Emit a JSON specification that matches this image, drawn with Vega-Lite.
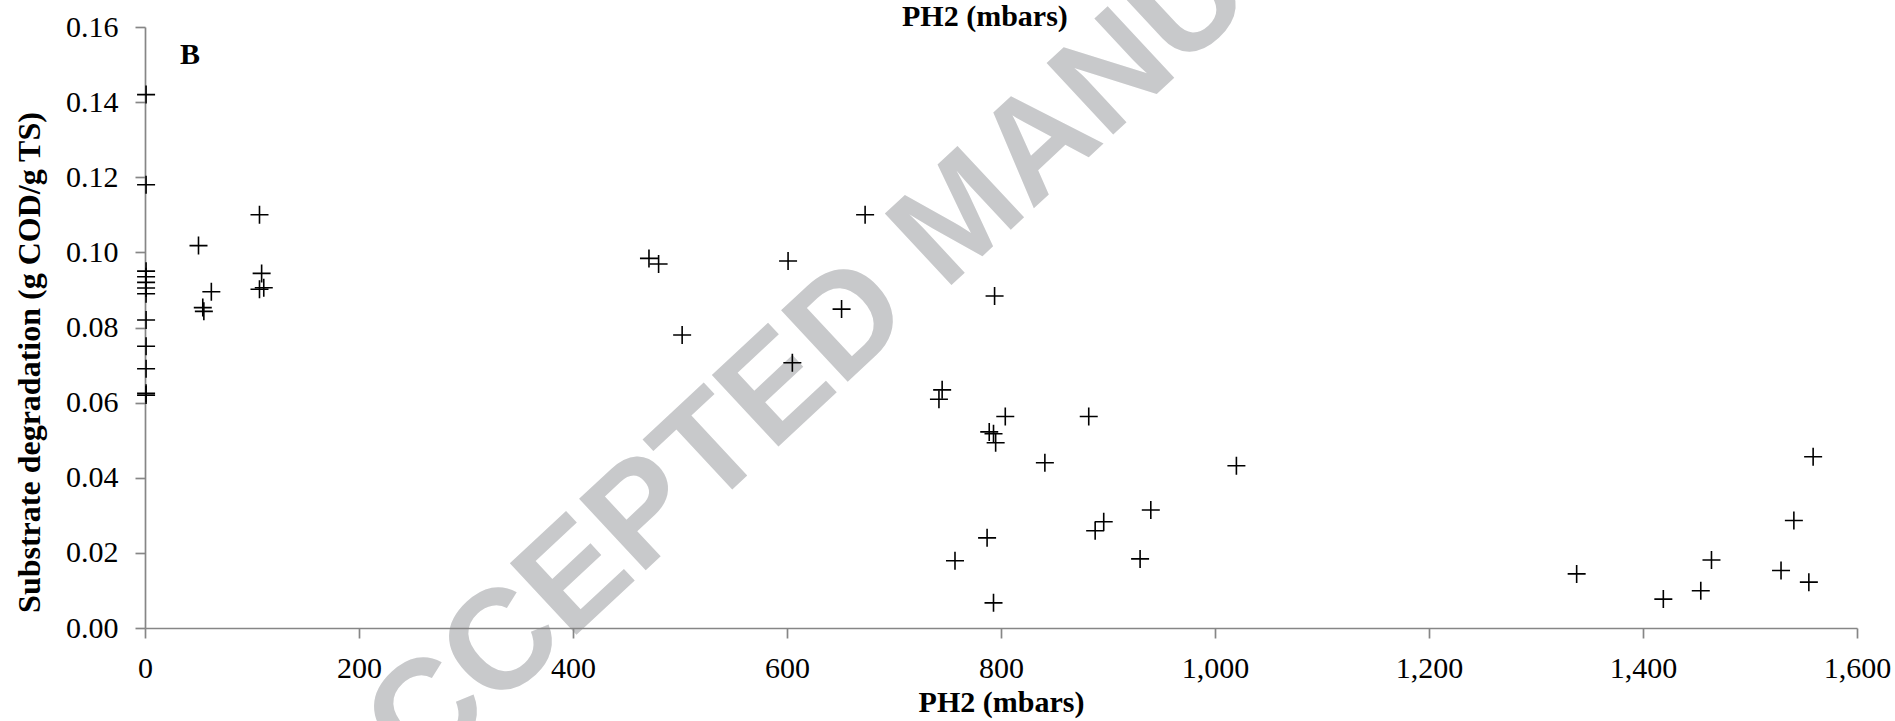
{
  "$schema": "https://vega.github.io/schema/vega-lite/v6.json",
  "autosize": {"type": "none"},
  "padding": {"left": 145, "top": 27, "right": 38, "bottom": 93},
  "width": 1712,
  "height": 601,
  "background": "white",
  "config": {
    "view": {"stroke": null},
    "font": "Liberation Serif, Times New Roman, serif",
    "axis": {
      "grid": false,
      "domainColor": "#868686",
      "domainWidth": 1.7,
      "tickColor": "#868686",
      "tickWidth": 1.7,
      "tickSize": 10,
      "labelFont": "Liberation Serif, Times New Roman, serif",
      "labelFontSize": 30,
      "labelColor": "black",
      "labelOverlap": false,
      "labelFlush": false,
      "titleFont": "Liberation Serif, Times New Roman, serif",
      "titleFontWeight": "bold",
      "titleColor": "black"
    }
  },
  "layer": [
    {
      "data": {"values": [{}]},
      "mark": {
        "type": "text",
        "font": "Liberation Sans, Arial, sans-serif",
        "fontWeight": "bold",
        "fontSize": 142,
        "angle": 317,
        "color": "#c8c9cb",
        "align": "center",
        "baseline": "middle"
      },
      "encoding": {
        "x": {"datum": 763, "type": "quantitative"},
        "y": {"datum": 0.1094, "type": "quantitative"},
        "text": {"value": "ACCEPTED MANUSCRIPT"}
      }
    },
    {
      "data": {
        "values": [
          {"p": 1, "s": 0.142}, {"p": 1, "s": 0.118}, {"p": 1, "s": 0.095},
          {"p": 1, "s": 0.0935}, {"p": 1, "s": 0.092}, {"p": 1, "s": 0.0905},
          {"p": 1, "s": 0.089}, {"p": 1, "s": 0.082}, {"p": 1, "s": 0.075},
          {"p": 1, "s": 0.069}, {"p": 1, "s": 0.062}, {"p": 1, "s": 0.0625},
          {"p": 50, "s": 0.1018}, {"p": 54, "s": 0.0853}, {"p": 55, "s": 0.0843},
          {"p": 62, "s": 0.0895}, {"p": 107, "s": 0.11}, {"p": 109, "s": 0.0944},
          {"p": 107, "s": 0.0902}, {"p": 111, "s": 0.0906},
          {"p": 471, "s": 0.0984}, {"p": 480, "s": 0.0969}, {"p": 502, "s": 0.078},
          {"p": 601, "s": 0.0977}, {"p": 605, "s": 0.0706}, {"p": 651, "s": 0.0849},
          {"p": 673, "s": 0.11}, {"p": 742, "s": 0.0609}, {"p": 745, "s": 0.0634},
          {"p": 757, "s": 0.0179}, {"p": 787, "s": 0.024}, {"p": 789, "s": 0.0522},
          {"p": 793, "s": 0.0517}, {"p": 793, "s": 0.0067}, {"p": 794, "s": 0.0884},
          {"p": 795, "s": 0.0493}, {"p": 804, "s": 0.0563}, {"p": 841, "s": 0.044},
          {"p": 882, "s": 0.0563}, {"p": 888, "s": 0.0259}, {"p": 896, "s": 0.0283},
          {"p": 930, "s": 0.0184}, {"p": 940, "s": 0.0314}, {"p": 1020, "s": 0.0432},
          {"p": 1338, "s": 0.0144}, {"p": 1419, "s": 0.0077}, {"p": 1454, "s": 0.0099},
          {"p": 1464, "s": 0.0181}, {"p": 1529, "s": 0.0153}, {"p": 1541, "s": 0.0286},
          {"p": 1555, "s": 0.0122}, {"p": 1559, "s": 0.0456}
        ]
      },
      "mark": {
        "type": "point",
        "shape": "M-1,0H1M0,-1V1",
        "filled": false,
        "color": "black",
        "strokeWidth": 1.6,
        "size": 324,
        "opacity": 1
      },
      "encoding": {
        "x": {
          "field": "p",
          "type": "quantitative",
          "scale": {"domain": [0, 1600], "nice": false},
          "axis": {
            "values": [0, 200, 400, 600, 800, 1000, 1200, 1400, 1600],
            "format": ",d",
            "labelPadding": 15,
            "title": "PH2 (mbars)",
            "titleFontSize": 30,
            "titlePadding": 4,
            "zindex": 1
          }
        },
        "y": {
          "field": "s",
          "type": "quantitative",
          "scale": {"domain": [0, 0.16], "nice": false},
          "axis": {
            "values": [0, 0.02, 0.04, 0.06, 0.08, 0.1, 0.12, 0.14, 0.16],
            "format": ".2f",
            "labelPadding": 17,
            "title": "Substrate degradation (g COD/g TS)",
            "titleFontSize": 32,
            "titlePadding": 19,
            "titleY": 335
          }
        }
      }
    },
    {
      "data": {"values": [{}]},
      "mark": {
        "type": "text",
        "font": "Liberation Serif, Times New Roman, serif",
        "fontWeight": "bold",
        "fontSize": 30,
        "color": "black",
        "align": "center",
        "baseline": "alphabetic"
      },
      "encoding": {
        "x": {"datum": 42, "type": "quantitative"},
        "y": {"datum": 0.1502, "type": "quantitative"},
        "text": {"value": "B"}
      }
    },
    {
      "data": {"values": [{}]},
      "mark": {
        "type": "text",
        "font": "Liberation Serif, Times New Roman, serif",
        "fontWeight": "bold",
        "fontSize": 30,
        "color": "black",
        "align": "center",
        "baseline": "alphabetic"
      },
      "encoding": {
        "x": {"datum": 785, "type": "quantitative"},
        "y": {"datum": 0.1603, "type": "quantitative"},
        "text": {"value": "PH2 (mbars)"}
      }
    }
  ]
}
